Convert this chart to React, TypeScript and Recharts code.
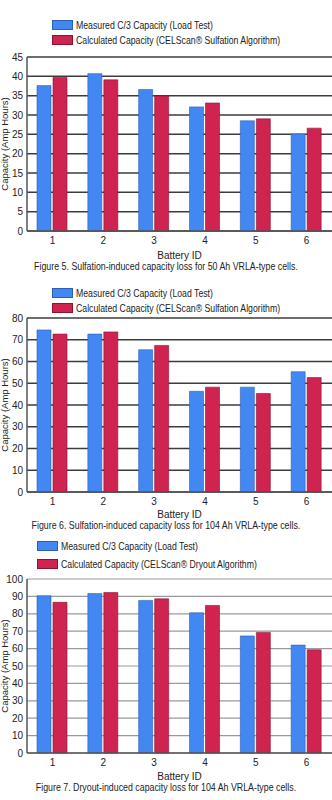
import { BarChart, Bar, XAxis, YAxis, CartesianGrid, Legend } from 'recharts'

const batteryIds = ['1', '2', '3', '4', '5', '6']

// Figure 5 - 50 Ah cells, sulfation
const fig5Measured = [37.6, 40.7, 36.6, 32.1, 28.5, 25.1]
const fig5Calculated = [39.7, 39.1, 34.9, 33.1, 29.0, 26.6]
const fig5Ticks = [0, 5, 10, 15, 20, 25, 30, 35, 40, 45]

// Figure 6 - 104 Ah cells, sulfation
const fig6Measured = [74.5, 72.6, 65.4, 46.3, 48.2, 55.3]
const fig6Calculated = [72.6, 73.6, 67.4, 48.2, 45.3, 52.6]
const fig6Ticks = [0, 10, 20, 30, 40, 50, 60, 70, 80]

// Figure 7 - 104 Ah cells, dryout
const fig7Measured = [90.4, 91.6, 87.7, 80.6, 67.3, 62.0]
const fig7Calculated = [86.6, 92.2, 88.6, 84.8, 69.3, 59.3]
const fig7Ticks = [0, 10, 20, 30, 40, 50, 60, 70, 80, 90, 100]

const measuredName = 'Measured C/3 Capacity (Load Test)'

const BLUE = '#4388f2'
const RED = '#cf2350'
const FONT = "'Liberation Sans', Arial, sans-serif"

const toRows = (measured: number[], calculated: number[]) =>
  batteryIds.map((id, i) => ({ id, measured: measured[i], calculated: calculated[i] }))

interface FigureProps {
  top: number
  measured: number[]
  calculated: number[]
  calcName: string
  ticks: number[]
  caption: string
  legendTop: number
  legendGap: number
  legendLeft: number
  plotTop: number
  gridColor: string
  gridWidth: number
  labelOffset: number
  captionOffset: number
}

function Figure({
  top, measured, calculated, calcName, ticks, caption,
  legendTop, legendGap, legendLeft, plotTop, gridColor, gridWidth, labelOffset, captionOffset,
}: FigureProps) {
  const data = toRows(measured, calculated)
  const plotH = 174
  const xAxisH = 32
  const height = plotTop + plotH + xAxisH

  // narrow humanist look of the original: squeeze the text horizontally
  const renderLegend = () => (
    <div style={{ fontFamily: FONT, fontSize: 10.5, color: '#222' }}>
      {[{ c: BLUE, s: '#2c5fb0', n: measuredName }, { c: RED, s: '#8c1233', n: calcName }].map((it, i) => (
        <div key={i} style={{ display: 'flex', alignItems: 'center', height: legendGap, whiteSpace: 'nowrap' }}>
          <span style={{ display: 'inline-block', flex: 'none', width: 19, height: 8, background: it.c, border: `0.5px solid ${it.s}`, marginRight: 3 }} />
          <span style={{ display: 'inline-block', transform: 'scaleX(0.83)', transformOrigin: 'left center' }}>{it.n}</span>
        </div>
      ))}
    </div>
  )

  return (
    <div style={{ position: 'absolute', left: 0, top, width: 332, height: height + 16 }}>
      <BarChart
        width={332}
        height={height}
        data={data}
        margin={{ top: plotTop, right: 0, left: 0, bottom: 0 }}
        barSize={14}
        barGap={2}
      >
        <CartesianGrid vertical={false} stroke={gridColor} strokeWidth={gridWidth} />
        <XAxis
          dataKey="id"
          height={xAxisH}
          tickLine={false}
          tickSize={4}
          tickMargin={2}
          axisLine={{ stroke: '#555', strokeWidth: 1.5 }}
          tick={{ fill: '#222', fontSize: 10, fontFamily: FONT }}
          label={{ value: 'Battery ID', position: 'insideBottom', offset: labelOffset + 4, fill: '#222', fontSize: 10, fontFamily: FONT }}
        />
        <YAxis
          width={27}
          domain={[0, ticks[ticks.length - 1]]}
          ticks={ticks}
          interval={0}
          tickLine={false}
          tickSize={2}
          tickMargin={2}
          axisLine={{ stroke: '#555', strokeWidth: 1.5 }}
          tick={{ fill: '#222', fontSize: 10, fontFamily: FONT }}
          label={{
            value: 'Capacity (Amp Hours)', angle: -90, position: 'insideLeft', offset: 5,
            fill: '#222', fontSize: 9.5, fontFamily: FONT, style: { textAnchor: 'middle' },
          }}
        />
        <Legend
          layout="horizontal"
          verticalAlign="middle"
          align="center"
          content={renderLegend}
          wrapperStyle={{ top: legendTop, left: legendLeft, width: 280, height: legendGap * 2 }}
        />
        <Bar dataKey="measured" name={measuredName} fill={BLUE} stroke="#2c5fb0" strokeWidth={0.6} isAnimationActive={false} />
        <Bar dataKey="calculated" name={calcName} fill={RED} stroke="#8c1233" strokeWidth={0.6} isAnimationActive={false} />
      </BarChart>
      <div
        style={{
          position: 'absolute', left: 0, width: 332, top: plotTop + plotH + captionOffset - 7,
          textAlign: 'center', fontFamily: FONT, fontSize: 10.5, color: '#222', whiteSpace: 'nowrap',
        }}
      >
        <span style={{ display: 'inline-block', transform: 'scaleX(0.84)' }}>{caption}</span>
      </div>
    </div>
  )
}

export default function App() {
  return (
    <div style={{ position: 'absolute', left: 0, top: 0, width: 332, height: 800, background: '#fff' }}>
      <Figure
        top={0}
        measured={fig5Measured}
        calculated={fig5Calculated}
        calcName="Calculated Capacity (CELScan® Sulfation Algorithm)"
        ticks={fig5Ticks}
        caption="Figure 5. Sulfation-induced capacity loss for 50 Ah VRLA-type cells."
        legendTop={17}
        legendGap={15}
        legendLeft={52}
        plotTop={57}
        gridColor="#3c3c3c"
        gridWidth={1.5}
        labelOffset={0}
        captionOffset={36}
      />
      <Figure
        top={270}
        measured={fig6Measured}
        calculated={fig6Calculated}
        calcName="Calculated Capacity (CELScan® Sulfation Algorithm)"
        ticks={fig6Ticks}
        caption="Figure 6. Sulfation-induced capacity loss for 104 Ah VRLA-type cells."
        legendTop={15}
        legendGap={15}
        legendLeft={52}
        plotTop={48}
        gridColor="#3c3c3c"
        gridWidth={1.5}
        labelOffset={2}
        captionOffset={34}
      />
      <Figure
        top={530}
        measured={fig7Measured}
        calculated={fig7Calculated}
        calcName="Calculated Capacity (CELScan® Dryout Algorithm)"
        ticks={fig7Ticks}
        caption="Figure 7. Dryout-induced capacity loss for 104 Ah VRLA-type cells."
        legendTop={7}
        legendGap={18}
        legendLeft={37}
        plotTop={49}
        gridColor="#9a9a9a"
        gridWidth={1.2}
        labelOffset={1}
        captionOffset={35}
      />
    </div>
  )
}
